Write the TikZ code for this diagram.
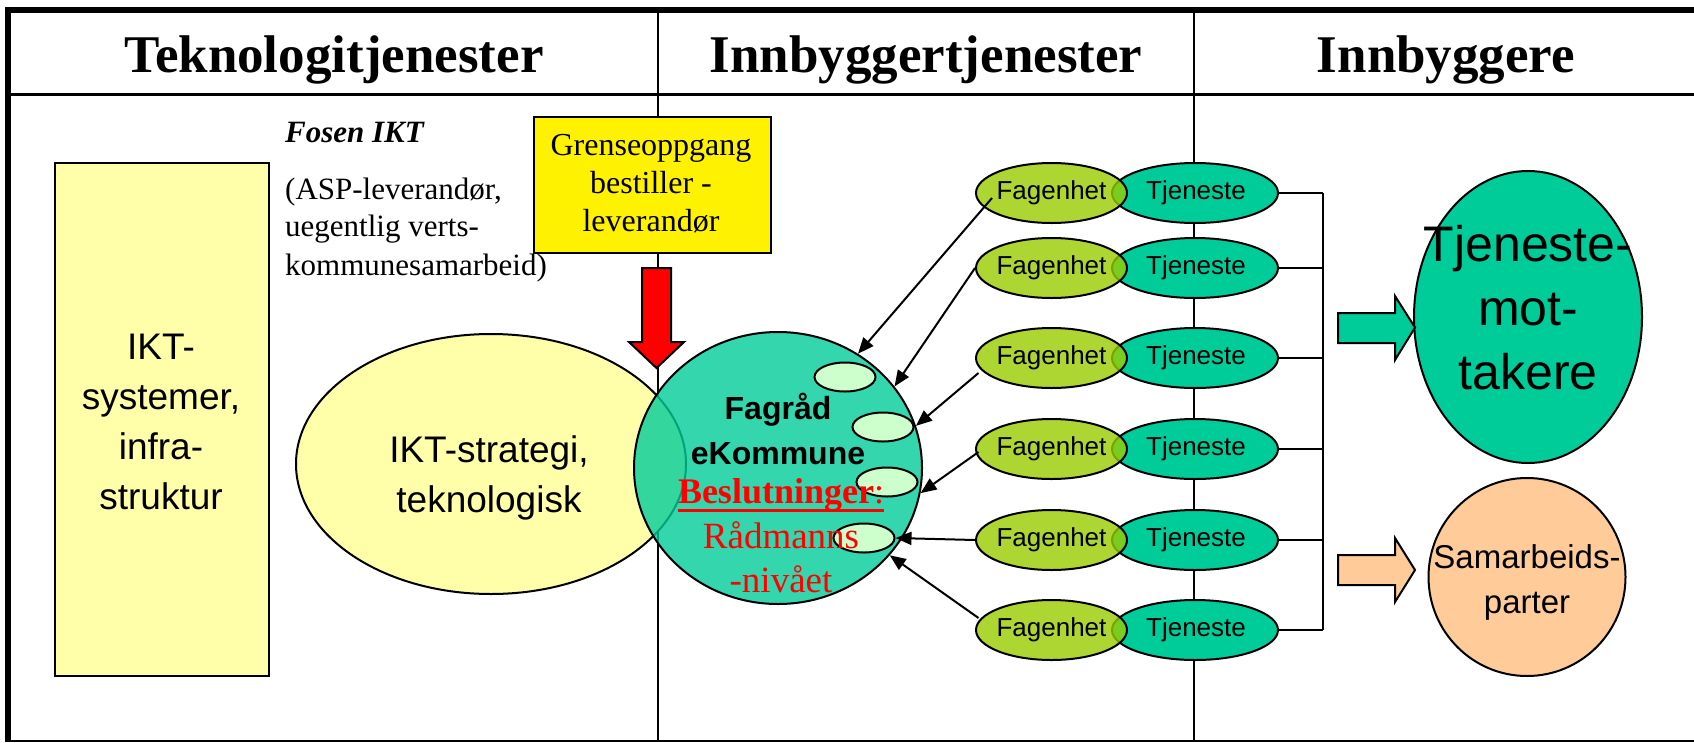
\documentclass[tikz,border=0pt]{standalone}
\usepackage{fontspec}
\setmainfont{Liberation Serif}
\setsansfont{Liberation Sans}
\usetikzlibrary{arrows.meta,shapes.geometric,calc}
\definecolor{paleyel}{HTML}{FFFFAA}
\definecolor{tealc}{HTML}{00CC99}
\definecolor{fagc}{HTML}{99CC00}
\definecolor{lightg}{HTML}{CCFFCC}
\definecolor{peach}{HTML}{FFCC99}
\definecolor{redc}{HTML}{FF0000}
\tikzset{
  hdr/.style={anchor=base, font=\fontsize{53}{60}\selectfont\bfseries, inner sep=0},
  sanstxt/.style={align=center, inner sep=0},
  oval/.style={ellipse, draw, inner sep=0, line width=2pt},
  fag/.style={oval, fill=fagc, fill opacity=0.8, minimum width=151pt, minimum height=60pt},
  tje/.style={oval, fill=tealc, minimum width=166pt, minimum height=60pt},
  rowtxt/.style={inner sep=0, font=\sffamily\fontsize{26}{30}\selectfont},
  small/.style={oval, fill=lightg, minimum width=61pt, minimum height=29pt},
  arr/.style={line width=2pt, -{Triangle[length=16pt,width=13pt]}},
  serif31/.style={anchor=base west, inner sep=0, font=\fontsize{31}{38}\selectfont},
}
\begin{document}
\begin{tikzpicture}[x=1pt,y=-1pt]
\useasboundingbox (0,0) rectangle (1694,742);
% frame
\draw[line width=3pt] (8,94) -- (1694,94);
\draw[line width=2pt] (8,740.5) -- (1694,740.5);
\draw[line width=2pt] (658,10) -- (658,742);
\draw[line width=2pt] (1194,10) -- (1194,742);
\draw[line width=6pt] (5,10) -- (1694,10);
\draw[line width=6pt] (8,7) -- (8,742);
% headers
\node[hdr] (h1) at (334,72) {Teknologitjenester};
\node[hdr] (h2) at (926,72) {Innbyggertjenester};
\node[hdr] (h3) at (1446,72) {Innbyggere};
% left box
\node[draw, line width=2pt, fill=paleyel, minimum width=214pt, minimum height=513pt, anchor=north west, inner sep=0] (ikt) at (54,162) {};
\node[sanstxt, font=\sffamily\fontsize{37}{50}\selectfont] (iktt) at (161,422) {IKT-\\systemer,\\infra-\\struktur};
% Fosen text
\node[serif31, font=\fontsize{31}{38}\selectfont\bfseries\itshape] (fosen) at (285,142) {Fosen IKT};
\node[serif31] (asp1) at (285,199) {(ASP-leverandør,};
\node[serif31] (asp2) at (285,236) {uegentlig verts-};
\node[serif31] (asp3) at (285,275) {kommunesamarbeid)};
% strategy ellipse
\node[oval, fill=paleyel, minimum width=390pt, minimum height=260pt] (strat) at (491,464) {};
\node[sanstxt, font=\sffamily\fontsize{37}{50}\selectfont] (stratt) at (489,478) {IKT-strategi,\\teknologisk};
% grenseoppgang box and red arrow
\node[draw, line width=2pt, fill=yellow, minimum width=237pt, minimum height=136pt, anchor=north west, inner sep=0] (gr) at (533,116) {};
\node[sanstxt, font=\fontsize{32}{38}\selectfont] (grt) at (651,184) {Grenseoppgang\\bestiller -\\leverandør};
\draw[line width=2pt, fill=redc] (642,268) -- (671,268) -- (671,342) -- (684,342) -- (656.5,368) -- (629,342) -- (642,342) -- cycle;
% fagrad circle
\node[oval, fill=tealc, fill opacity=0.8, minimum width=288pt, minimum height=272pt] (fc) at (778,468) {};
\node[small] (e1) at (845,377) {};
\node[small] (e2) at (883,427) {};
\node[small] (e3) at (887,482) {};
\node[small] (e4) at (864,538) {};
\node[sanstxt, font=\sffamily\bfseries\fontsize{32}{45}\selectfont] (fct) at (778,429) {Fagråd\\eKommune};
\node[anchor=base, inner sep=0, text=redc, font=\fontsize{36}{44}\selectfont] (bes) at (781,503) {\textbf{Beslutninger}:};
\draw[redc, line width=3pt] ($(bes.base west)+(0,7)$) -- ($(bes.base east)+(0,7)$);
\node[sanstxt, anchor=base, text=redc, font=\fontsize{37}{44}\selectfont] (rad) at (781,592) {Rådmanns\\-nivået};
% rows
\foreach \i/\y in {1/193,2/268,3/358,4/449,5/540,6/630}{
  \node[tje] (t\i) at (1195,\y) {};
  \node[fag] (f\i) at (1051.5,\y) {};
  \node[rowtxt] (ft\i) at (1051.5,\y) {Fagenhet};
  \node[rowtxt] (tt\i) at (1196,\y) {Tjeneste};
  \coordinate (b\i) at (1323,\y);
  \draw[line width=2pt] (t\i.east) -- (b\i);
}
\draw[line width=2pt] (b1) -- (b6);
% arrows to fagrad
\draw[arr] ($(f1.center)+(-59.5,5)$) -- (fc.55);
\draw[arr] (f2.west) -- (fc.35);
\draw[arr] ($(f3.center)+(-73,15)$) -- (fc.17);
\draw[arr] ($(f4.center)+(-73,3)$) -- (fc.-10);
\draw[arr] (f5.west) -- (e4.east);
\draw[arr] ($(f6.center)+(-73,-12)$) -- (fc.-38);
% right side
\node[oval, fill=tealc, minimum width=228pt, minimum height=292pt] (tm) at (1528,317) {};
\node[sanstxt, font=\sffamily\fontsize{50}{64}\selectfont] (tmt) at (1528,308) {Tjeneste-\\mot-\\takere};
\draw[line width=2pt, fill=tealc] (1338,313) -- (1395,313) -- (1395,296) -- (1415,327.5) -- (1395,360) -- (1395,343) -- (1338,343) -- cycle;
\node[oval, fill=peach, minimum width=197pt, minimum height=198pt] (sp) at (1527,577) {};
\node[sanstxt, font=\sffamily\fontsize{33}{45}\selectfont] (spt) at (1527,582) {Samarbeids-\\parter};
\draw[line width=2pt, fill=peach] (1338,555) -- (1395,555) -- (1395,538) -- (1415,570) -- (1395,602) -- (1395,585) -- (1338,585) -- cycle;
\end{tikzpicture}
\end{document}
